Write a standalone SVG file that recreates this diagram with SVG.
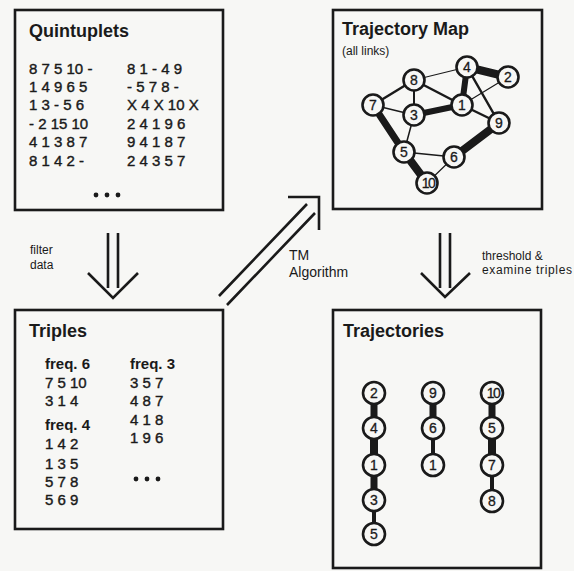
<svg xmlns="http://www.w3.org/2000/svg" width="574" height="571" viewBox="0 0 574 571">
<style>
text{font-family:"Liberation Sans",Arial,sans-serif;fill:#1a1a1a}
.box{fill:none;stroke:#1a1a1a;stroke-width:2.6}
.title{font-size:18px;font-weight:bold}
.num{font-size:15px;stroke:#1a1a1a;stroke-width:0.4}
.freq{font-size:15px;font-weight:bold}
.lbl{font-size:12px}
.arr{fill:none;stroke:#1a1a1a;stroke-width:2.6;stroke-linecap:butt}
.node circle{fill:#f7f7f5;stroke:#1a1a1a;stroke-width:2.6}
.node text{font-size:14px;text-anchor:middle;stroke:#1a1a1a;stroke-width:0.3}
.e{stroke:#1a1a1a;stroke-linecap:round}
</style>
<rect width="574" height="571" fill="#f7f7f5"/>

<g id="quintuplets">
<rect class="box" x="15" y="10" width="208" height="200"/>
<text class="title" x="29" y="37">Quintuplets</text>
<text class="num" x="29" y="74">8 7 5 10 -</text>
<text class="num" x="29" y="92">1 4 9 6 5</text>
<text class="num" x="29" y="110">1 3 - 5 6</text>
<text class="num" x="29" y="129">- 2 15 10</text>
<text class="num" x="29" y="147">4 1 3 8 7</text>
<text class="num" x="29" y="166">8 1 4 2 -</text>
<text class="num" x="127" y="74">8 1 - 4 9</text>
<text class="num" x="127" y="92">- 5 7 8 -</text>
<text class="num" x="127" y="110">X 4 X 10 X</text>
<text class="num" x="127" y="129">2 4 1 9 6</text>
<text class="num" x="127" y="147">9 4 1 8 7</text>
<text class="num" x="127" y="166">2 4 3 5 7</text>
<circle cx="96" cy="195" r="2.4" fill="#1a1a1a"/>
<circle cx="107" cy="195" r="2.4" fill="#1a1a1a"/>
<circle cx="118" cy="195" r="2.4" fill="#1a1a1a"/>
</g>

<g id="trajectory-map">
<rect class="box" x="333" y="10" width="209" height="199"/>
<text class="title" x="342" y="35">Trajectory Map</text>
<text class="lbl" x="342" y="55" font-size="11">(all links)</text>
<g id="map-links">
<line class="e" x1="414" y1="80" x2="467" y2="67" stroke-width="1.2"/>
<line class="e" x1="467" y1="67" x2="508" y2="77" stroke-width="8"/>
<line class="e" x1="467" y1="67" x2="462" y2="105" stroke-width="6"/>
<line class="e" x1="467" y1="67" x2="499" y2="123" stroke-width="2.5"/>
<line class="e" x1="508" y1="77" x2="462" y2="105" stroke-width="1.2"/>
<line class="e" x1="414" y1="80" x2="373" y2="105" stroke-width="2.5"/>
<line class="e" x1="414" y1="80" x2="414" y2="115" stroke-width="2"/>
<line class="e" x1="414" y1="80" x2="462" y2="105" stroke-width="2.5"/>
<line class="e" x1="373" y1="105" x2="414" y2="115" stroke-width="1.5"/>
<line class="e" x1="414" y1="115" x2="462" y2="105" stroke-width="6"/>
<line class="e" x1="373" y1="105" x2="404" y2="152" stroke-width="7"/>
<line class="e" x1="414" y1="115" x2="404" y2="152" stroke-width="1.5"/>
<line class="e" x1="462" y1="105" x2="499" y2="123" stroke-width="2.5"/>
<line class="e" x1="499" y1="123" x2="454" y2="157" stroke-width="8"/>
<line class="e" x1="404" y1="152" x2="454" y2="157" stroke-width="1.5"/>
<line class="e" x1="404" y1="152" x2="427" y2="183" stroke-width="8"/>
<line class="e" x1="454" y1="157" x2="427" y2="183" stroke-width="1.2"/>
</g>
<g class="node" id="m4"><circle cx="467" cy="67" r="10.5"/><text x="467" y="72">4</text></g>
<g class="node" id="m2"><circle cx="508" cy="77" r="10.5"/><text x="508" y="82">2</text></g>
<g class="node" id="m8"><circle cx="414" cy="80" r="10.5"/><text x="414" y="85">8</text></g>
<g class="node" id="m7"><circle cx="373" cy="105" r="10.5"/><text x="373" y="110">7</text></g>
<g class="node" id="m3"><circle cx="414" cy="115" r="10.5"/><text x="414" y="120">3</text></g>
<g class="node" id="m1"><circle cx="462" cy="105" r="10.5"/><text x="462" y="110">1</text></g>
<g class="node" id="m9"><circle cx="499" cy="123" r="10.5"/><text x="499" y="128">9</text></g>
<g class="node" id="m5"><circle cx="404" cy="152" r="10.5"/><text x="404" y="157">5</text></g>
<g class="node" id="m6"><circle cx="454" cy="157" r="10.5"/><text x="454" y="162">6</text></g>
<g class="node" id="m10"><circle cx="427" cy="183" r="10.5"/><text x="428" y="188" letter-spacing="-1.5">10</text></g>
</g>

<g id="triples">
<rect class="box" x="15" y="310" width="208" height="219"/>
<text class="title" x="29" y="337">Triples</text>
<text class="freq" x="45" y="369">freq. 6</text>
<text class="num" x="45" y="388">7 5 10</text>
<text class="num" x="45" y="406">3 1 4</text>
<text class="freq" x="45" y="430">freq. 4</text>
<text class="num" x="45" y="449">1 4 2</text>
<text class="num" x="45" y="469">1 3 5</text>
<text class="num" x="45" y="487">5 7 8</text>
<text class="num" x="45" y="505">5 6 9</text>
<text class="freq" x="130" y="369">freq. 3</text>
<text class="num" x="130" y="388">3 5 7</text>
<text class="num" x="130" y="406">4 8 7</text>
<text class="num" x="130" y="425">4 1 8</text>
<text class="num" x="130" y="443">1 9 6</text>
<circle cx="136" cy="479" r="2.4" fill="#1a1a1a"/>
<circle cx="147" cy="479" r="2.4" fill="#1a1a1a"/>
<circle cx="158" cy="479" r="2.4" fill="#1a1a1a"/>
</g>

<g id="trajectories">
<rect class="box" x="333" y="310" width="208" height="258"/>
<text class="title" x="343" y="337">Trajectories</text>
<g id="traj-links">
<line class="e" x1="374" y1="393" x2="374" y2="428" stroke-width="7"/>
<line class="e" x1="374" y1="428" x2="374" y2="465" stroke-width="8"/>
<line class="e" x1="374" y1="465" x2="374" y2="500" stroke-width="7"/>
<line class="e" x1="374" y1="500" x2="374" y2="534" stroke-width="4"/>
<line class="e" x1="433" y1="393" x2="433" y2="428" stroke-width="7"/>
<line class="e" x1="433" y1="428" x2="433" y2="465" stroke-width="4"/>
<line class="e" x1="492" y1="393" x2="492" y2="428" stroke-width="7"/>
<line class="e" x1="492" y1="428" x2="492" y2="465" stroke-width="8"/>
<line class="e" x1="492" y1="465" x2="492" y2="501" stroke-width="4"/>
</g>
<g class="node" id="t2"><circle cx="374" cy="393" r="11"/><text x="374" y="398">2</text></g>
<g class="node" id="t4"><circle cx="374" cy="428" r="11"/><text x="374" y="433">4</text></g>
<g class="node" id="t1a"><circle cx="374" cy="465" r="11"/><text x="374" y="470">1</text></g>
<g class="node" id="t3"><circle cx="374" cy="500" r="11"/><text x="374" y="505">3</text></g>
<g class="node" id="t5a"><circle cx="374" cy="534" r="11"/><text x="374" y="539">5</text></g>
<g class="node" id="t9"><circle cx="433" cy="393" r="11"/><text x="433" y="398">9</text></g>
<g class="node" id="t6"><circle cx="433" cy="428" r="11"/><text x="433" y="433">6</text></g>
<g class="node" id="t1b"><circle cx="433" cy="465" r="11"/><text x="433" y="470">1</text></g>
<g class="node" id="t10"><circle cx="492" cy="393" r="11"/><text x="493" y="398" letter-spacing="-1.5">10</text></g>
<g class="node" id="t5b"><circle cx="492" cy="428" r="11"/><text x="492" y="433">5</text></g>
<g class="node" id="t7"><circle cx="492" cy="465" r="11"/><text x="492" y="470">7</text></g>
<g class="node" id="t8"><circle cx="492" cy="501" r="11"/><text x="492" y="506">8</text></g>
</g>

<g id="connectors">
<path class="arr" d="M108 233V288M118 233V288M88 273L113 298L138 273"/>
<path class="arr" d="M440 233V288M450 233V288M421 273L445 297L470 273"/>
<path class="arr" d="M219 296L307 204M227 305L315 213M288 197H319V230"/>
<text class="lbl" x="30" y="254">filter</text>
<text class="lbl" x="30" y="269">data</text>
<text x="289" y="260" font-size="14">TM</text>
<text x="289" y="277" font-size="14">Algorithm</text>
<text class="lbl" x="482" y="260">threshold &amp;</text>
<text class="lbl" x="482" y="274" textLength="90">examine triples</text>
</g>
</svg>
